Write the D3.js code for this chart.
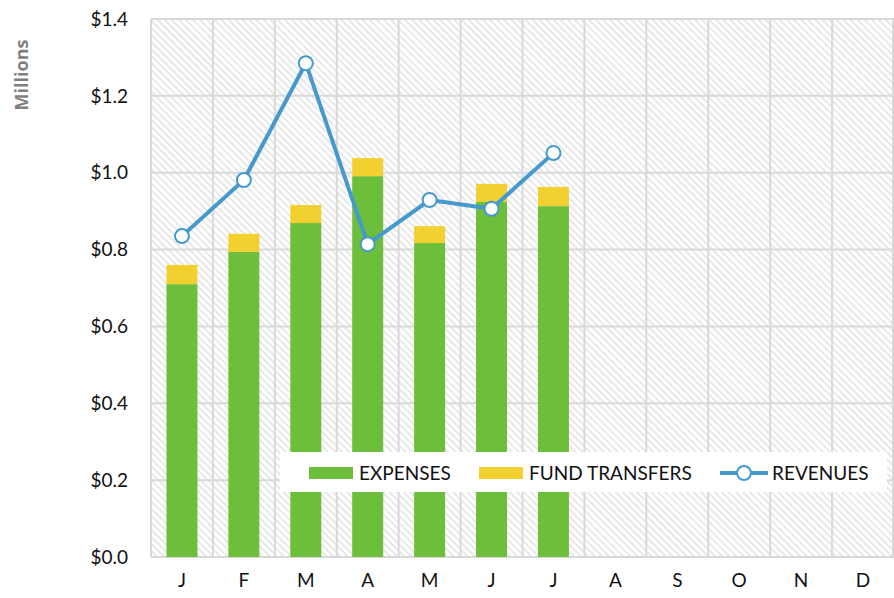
<!DOCTYPE html>
<html>
<head>
<meta charset="utf-8">
<script src="https://cdn.jsdelivr.net/npm/d3@7"></script>
<style>
  body { margin: 0; background: #fff; }
  text { font-family: Lato, "Open Sans", sans-serif; fill: #111; }
</style>
</head>
<body>
<svg id="chart" width="894" height="598"></svg>
<script>
"use strict";

/********/
/* data */
/********/

const months = ["J", "F", "M", "A", "M", "J", "J", "A", "S", "O", "N", "D"];
const expenses = [0.710, 0.794, 0.869, 0.991, 0.817, 0.924, 0.913];
const fundTransfers = [0.050, 0.047, 0.047, 0.047, 0.044, 0.047, 0.050];
const revenues = [0.835, 0.981, 1.285, 0.814, 0.929, 0.906, 1.051];
const yTicks = [0, 0.2, 0.4, 0.6, 0.8, 1.0, 1.2, 1.4];

const green = "#6dbe3a";
const yellow = "#f2d02f";
const blue = "#4599cc";

/********/
/* view */
/********/

const svg = d3.select("#chart");
const margin = { top: 19, right: 0, bottom: 41, left: 151 };
const width = 894 - margin.left - margin.right;
const height = 598 - margin.top - margin.bottom;

const defs = svg.append("defs");
const pattern = defs
  .append("pattern")
  .attr("id", "hatch")
  .attr("patternUnits", "userSpaceOnUse")
  .attr("width", 5)
  .attr("height", 5)
  .attr("patternTransform", "rotate(45)");
pattern.append("rect").attr("width", 5).attr("height", 5).attr("fill", "#fff");
pattern
  .append("rect")
  .attr("width", 5)
  .attr("height", 1.8)
  .attr("fill", "#e6e6e6");

const g = svg
  .append("g")
  .attr("transform", "translate(" + margin.left + "," + margin.top + ")");

const x = d3.scaleBand().domain(d3.range(months.length)).range([0, width]);
const y = d3.scaleLinear().domain([0, 1.4]).range([height, 0]);

g.append("rect")
  .attr("width", width)
  .attr("height", height)
  .attr("fill", "url(#hatch)");

// horizontal grid
g.selectAll(".hgrid")
  .data(yTicks)
  .enter()
  .append("line")
  .attr("x1", 0)
  .attr("x2", width)
  .attr("y1", d => y(d))
  .attr("y2", d => y(d))
  .attr("stroke", "#d9d9d9")
  .attr("stroke-width", 2);

// vertical grid at category boundaries
g.selectAll(".vgrid")
  .data(d3.range(months.length + 1))
  .enter()
  .append("line")
  .attr("x1", d => (d < months.length ? x(d) : width - 1))
  .attr("x2", d => (d < months.length ? x(d) : width - 1))
  .attr("y1", 0)
  .attr("y2", height)
  .attr("stroke", "#d9d9d9")
  .attr("stroke-width", 2);

// y axis labels
g.selectAll(".ytick")
  .data(yTicks)
  .enter()
  .append("text")
  .attr("x", -23)
  .attr("y", d => y(d))
  .attr("dy", "0.35em")
  .attr("text-anchor", "end")
  .attr("font-size", "19px")
  .text(d => "$" + d.toFixed(1));

// x axis labels
g.selectAll(".xtick")
  .data(months)
  .enter()
  .append("text")
  .attr("x", (d, i) => x(i) + x.bandwidth() / 2)
  .attr("y", height + 30)
  .attr("text-anchor", "middle")
  .attr("font-size", "19px")
  .text(d => d);

svg
  .append("text")
  .attr("transform", "translate(28," + (margin.top + 56) + ") rotate(-90)")
  .attr("text-anchor", "middle")
  .attr("font-size", "18px")
  .attr("font-weight", "bold")
  .style("font-family", "'Open Sans', sans-serif")
  .style("fill", "#7f7f7f")
  .text("Millions");

// bars
const barW = x.bandwidth() / 2;
const bars = g
  .selectAll(".bar")
  .data(expenses)
  .enter()
  .append("g");

bars
  .append("rect")
  .attr("x", (d, i) => x(i) + (x.bandwidth() - barW) / 2)
  .attr("y", d => y(d))
  .attr("width", barW)
  .attr("height", d => height - y(d))
  .attr("fill", green);

bars
  .append("rect")
  .attr("x", (d, i) => x(i) + (x.bandwidth() - barW) / 2)
  .attr("y", (d, i) => y(d + fundTransfers[i]))
  .attr("width", barW)
  .attr("height", (d, i) => y(d) - y(d + fundTransfers[i]))
  .attr("fill", yellow);

// revenues line
const line = d3
  .line()
  .x((d, i) => x(i) + x.bandwidth() / 2)
  .y(d => y(d));

g.append("path")
  .datum(revenues)
  .attr("d", line)
  .attr("fill", "none")
  .attr("stroke", blue)
  .attr("stroke-width", 4)
  .attr("stroke-linejoin", "round");

g.selectAll(".dot")
  .data(revenues)
  .enter()
  .append("circle")
  .attr("cx", (d, i) => x(i) + x.bandwidth() / 2)
  .attr("cy", d => y(d))
  .attr("r", 7)
  .attr("fill", "#fff")
  .attr("stroke", blue)
  .attr("stroke-width", 2);

// legend
const legend = svg.append("g").attr("transform", "translate(280,452)");
legend
  .append("rect")
  .attr("width", 607)
  .attr("height", 40)
  .attr("fill", "#fff");

legend
  .append("rect")
  .attr("x", 29)
  .attr("y", 15)
  .attr("width", 44)
  .attr("height", 12)
  .attr("fill", green);
legend
  .append("text")
  .attr("x", 79)
  .attr("y", 21)
  .attr("dy", "0.35em")
  .attr("font-size", "19px")
  .text("EXPENSES");

legend
  .append("rect")
  .attr("x", 199)
  .attr("y", 15)
  .attr("width", 44)
  .attr("height", 12)
  .attr("fill", yellow);
legend
  .append("text")
  .attr("x", 249)
  .attr("y", 21)
  .attr("dy", "0.35em")
  .attr("font-size", "19px")
  .text("FUND TRANSFERS");

legend
  .append("line")
  .attr("x1", 440)
  .attr("x2", 488)
  .attr("y1", 21)
  .attr("y2", 21)
  .attr("stroke", blue)
  .attr("stroke-width", 4);
legend
  .append("circle")
  .attr("cx", 464)
  .attr("cy", 21)
  .attr("r", 7)
  .attr("fill", "#fff")
  .attr("stroke", blue)
  .attr("stroke-width", 2);
legend
  .append("text")
  .attr("x", 492)
  .attr("y", 21)
  .attr("dy", "0.35em")
  .attr("font-size", "19px")
  .text("REVENUES");
</script>
</body>
</html>
